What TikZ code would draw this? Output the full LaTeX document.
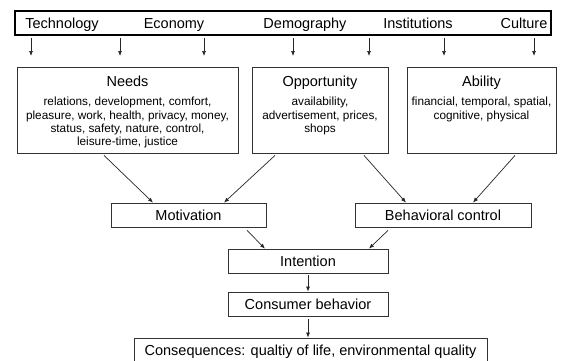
\documentclass[tikz,border=0pt]{standalone}
\usepackage{fontspec}
\setmainfont{Liberation Sans}
\usetikzlibrary{arrows.meta,calc}
\begin{document}
\begin{tikzpicture}[x=1pt,y=-1pt,
  box/.style={draw=black!80,line width=0.8pt,rectangle,inner sep=0pt,
    font=\fontsize{14.5}{16}\selectfont,text height=11pt,text depth=0pt},
  big/.style={font=\fontsize{14.5}{16}\selectfont,inner sep=0pt},
  small/.style={font=\fontsize{11.8}{13.4}\selectfont,align=center,inner sep=0pt},
  arr/.style={draw=black!85,line width=0.7pt,-{Latex[length=5pt,width=4pt]}}]

\useasboundingbox (0,0) rectangle (561,360);
\fill[white] (0,0) rectangle (561,360);

% top band
\node[draw=black,line width=2pt,rectangle,inner sep=0pt,minimum width=536pt,minimum height=24pt] (top) at (283,23) {};
\node[big,anchor=base] (tech) at (62,28) {Technology};
\node[big,anchor=base] (econ) at (174,28) {Economy};
\node[big,anchor=base] (demo) at (305,28) {Demography};
\node[big,anchor=base] (inst) at (418,28) {Institutions};
\node[big,anchor=base] (cult) at (524,28) {Culture};

% arrow ends below the band
\coordinate (t1) at (31,56);
\coordinate (t2) at (120,56);
\coordinate (t3) at (204,56);
\coordinate (t4) at (293,56);
\coordinate (t5) at (369,56);
\coordinate (t6) at (444,56);
\coordinate (t7) at (534,56);
\foreach \c in {t1,t2,t3,t4,t5,t6,t7}
  \draw[arr] ($(\c |- top.south)+(0,2)$) -- (\c);

% three boxes
\node[box,minimum width=221pt,minimum height=86pt] (needs) at (127.5,110) {};
\node[box,minimum width=136pt,minimum height=86pt] (opp) at (320,110) {};
\node[box,minimum width=149pt,minimum height=86pt] (abil) at (481.5,110) {};

\node[big,anchor=base] (needsT) at (127.5,86) {Needs};
\node[big,anchor=base] (oppT) at (320,86) {Opportunity};
\node[big,anchor=base] (abilT) at (481.5,86) {Ability};

\node[small,anchor=north] (needsB) at (127.5,97) {relations, development, comfort,\\pleasure, work, health, privacy, money,\\status, safety, nature, control,\\leisure-time, justice};
\node[small,anchor=north] (oppB) at (320,97) {availability,\\advertisement, prices,\\shops};
\node[small,anchor=north] (abilB) at (481.5,97) {financial, temporal, spatial,\\cognitive, physical};

% lower chain
\node[box,minimum width=155pt,minimum height=24pt] (mot) at (188.5,215) {Motivation};
\node[box,minimum width=176pt,minimum height=24pt] (beh) at (443,215) {Behavioral control};
\node[box,minimum width=160pt,minimum height=24pt] (int) at (308,261) {Intention};
\node[box,minimum width=160pt,minimum height=24pt] (cons) at (308,304) {Consumer behavior};
\node[box,minimum width=353pt,minimum height=24pt] (conseq) at (310.5,350) {Consequences: qualtiy of life, environmental quality};

% connectors
\draw[arr] ($(needs.south -| 104,0)+(0,2)$) -- (mot.north -| 153,0);
\draw[arr] ($(opp.south -| 275,0)+(0,2)$) -- (mot.north -| 224,0);
\draw[arr] ($(opp.south -| 364,0)+(0,2)$) -- (beh.north -| 406,0);
\draw[arr] ($(abil.south -| 515,0)+(0,2)$) -- (beh.north -| 473,0);
\draw[arr] ($(mot.south -| 247,0)+(0,3)$) -- (int.north -| 265,0);
\draw[arr] ($(beh.south -| 388,0)+(0,3)$) -- (int.north -| 369,0);
\draw[arr] ($(int.south)+(0,2)$) -- (cons.north);
\draw[arr] ($(cons.south)+(0,3)$) -- (conseq.north -| cons.south);
\end{tikzpicture}
\end{document}
